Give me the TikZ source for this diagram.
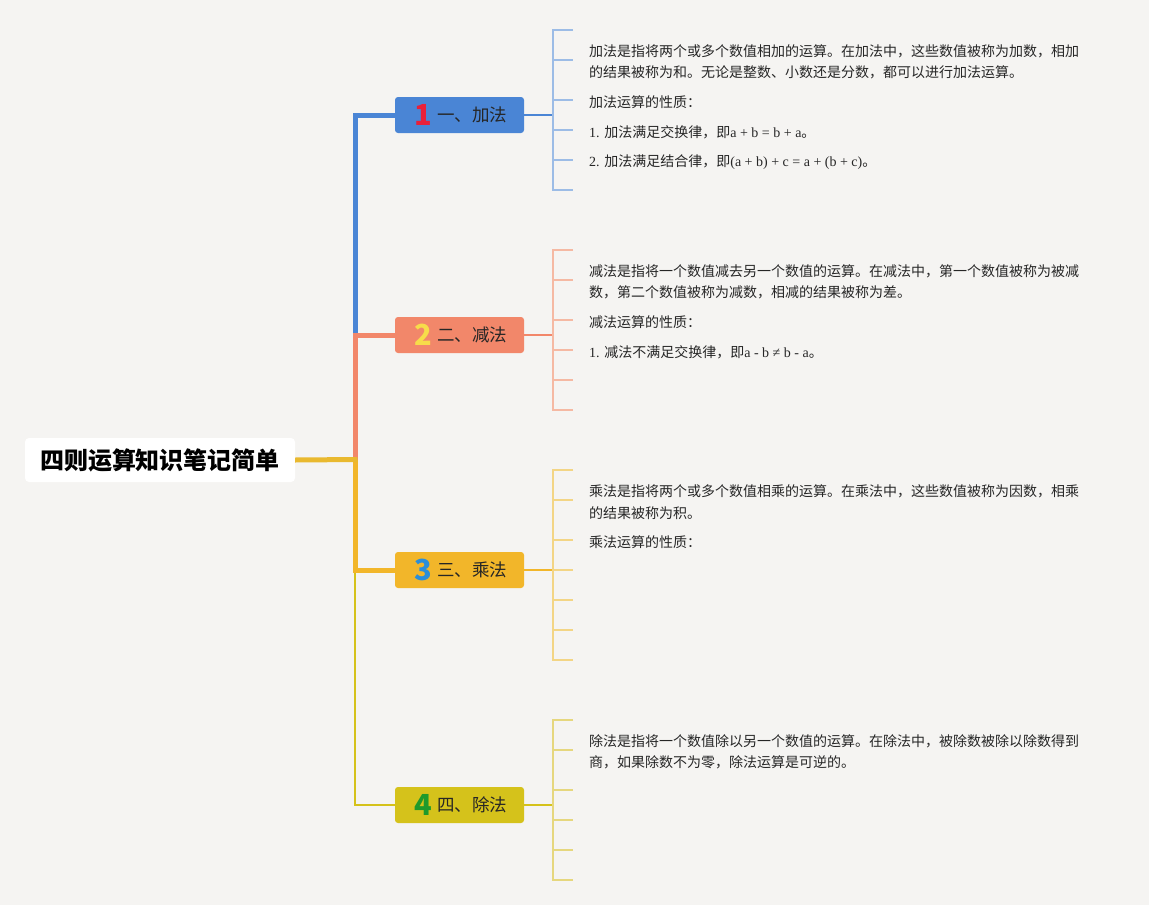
\documentclass[tikz,border=0pt]{standalone}
\usepackage{fontspec}
\setmainfont{Noto Sans CJK SC}
\newfontfamily\lserif{Liberation Serif}
\usetikzlibrary{calc}
\definecolor{bg}{HTML}{F5F4F2}
\definecolor{ink}{HTML}{262626}
\definecolor{cA}{HTML}{4A85D5}
\definecolor{cAl}{HTML}{9CBCE6}
\definecolor{cB}{HTML}{F2876A}
\definecolor{cBl}{HTML}{F5B9A3}
\definecolor{cC}{HTML}{F2B62A}
\definecolor{cCl}{HTML}{F3D585}
\definecolor{cD}{HTML}{D5C21B}
\definecolor{cDl}{HTML}{E6D77E}
\definecolor{rootline}{HTML}{E9B92F}
\definecolor{nA}{HTML}{E8203A}
\definecolor{nB}{HTML}{F7DC4A}
\definecolor{nC}{HTML}{2C8ED8}
\definecolor{nD}{HTML}{1F9A2B}
\begin{document}
\begin{tikzpicture}[x=1pt,y=1pt,
  rootbox/.style={fill=white, rounded corners=4pt, minimum width=270pt, minimum height=44pt, inner sep=0pt, text=black, font=\fontsize{24}{24}\selectfont\bfseries},
  branchbox/.style={rounded corners=3pt, minimum width=129pt, minimum height=36pt, inner sep=0pt},
  numtxt/.style={font=\fontsize{29}{29}\selectfont\bfseries, inner sep=0pt},
  labtxt/.style={font=\fontsize{17.5}{17.5}\selectfont, text=ink, anchor=west, inner sep=0pt},
  itemtxt/.style={font=\fontsize{14}{14}\selectfont, text=ink, anchor=west, inner sep=0pt},
  trunk/.style={line width=5pt},
  thintrunk/.style={line width=1.8pt},
  link/.style={line width=1.8pt},
  bracket/.style={line width=1.3pt}
]
\useasboundingbox[fill=bg] (0,0) rectangle (1149,-905);

% root
\node[rootbox] (root) at (160,-460) {四则运算知识笔记简单};
\coordinate (J) at (355,-459.5);

% branch boxes
\node[branchbox, fill=cA] (b1) at (459.5,-115) {};
\node[branchbox, fill=cB] (b2) at (459.5,-335) {};
\node[branchbox, fill=cC] (b3) at (459.5,-570) {};
\node[branchbox, fill=cD] (b4) at (459.5,-805) {};

\node[numtxt, text=nA] (n1) at (423,-115) {1};
\node[numtxt, text=nB] (n2) at (423,-335) {2};
\node[numtxt, text=nC] (n3) at (423,-570) {3};
\node[numtxt, text=nD] (n4) at (423,-805) {4};

\node[labtxt] (l1) at (437,-115) {一、加法};
\node[labtxt] (l2) at (437,-335) {二、减法};
\node[labtxt] (l3) at (437,-570) {三、乘法};
\node[labtxt] (l4) at (437,-805) {四、除法};

% trunk connectors
\draw[thintrunk, cD] (J) |- (b4.west);
\draw[trunk, cA] (J) |- (b1.west);
\draw[trunk, cC] (J) |- (b3.west);
\draw[trunk, cB] (J) |- (b2.west);
\draw[trunk, rootline] (root.east) -- ($(J)+(2.5,0)$);

% bracket junctions
\coordinate (k1) at (553,-115);
\coordinate (k2) at (553,-335);
\coordinate (k3) at (553,-570);
\coordinate (k4) at (553,-805);
\draw[link, cA] (b1.east) -- (k1);
\draw[link, cB] (b2.east) -- (k2);
\draw[link, cC] (b3.east) -- (k3);
\draw[link, cD] (b4.east) -- (k4);

% brackets
\draw[bracket, cAl] (573,-30) -- (553,-30) -- (553,-190) -- (573,-190);
\foreach \y in {60,100,130,160} \draw[bracket, cAl] (553,-\y) -- (573,-\y);
\draw[bracket, cBl] (573,-250) -- (553,-250) -- (553,-410) -- (573,-410);
\foreach \y in {280,320,350,380} \draw[bracket, cBl] (553,-\y) -- (573,-\y);
\draw[bracket, cCl] (573,-470) -- (553,-470) -- (553,-660) -- (573,-660);
\foreach \y in {500,540,570,600,630} \draw[bracket, cCl] (553,-\y) -- (573,-\y);
\draw[bracket, cDl] (573,-720) -- (553,-720) -- (553,-880) -- (573,-880);
\foreach \y in {750,790,820,850} \draw[bracket, cDl] (553,-\y) -- (573,-\y);

% branch 1 texts
\node[itemtxt] (t1a) at (589,-51.7) {加法是指将两个或多个数值相加的运算。在加法中，这些数值被称为加数，相加};
\node[itemtxt] (t1b) at (589,-72.7) {的结果被称为和。无论是整数、小数还是分数，都可以进行加法运算。};
\node[itemtxt] (t1c) at (589,-102) {加法运算的性质：};
\node[itemtxt] (t1d) at (589,-132) {{\lserif 1. }加法满足交换律，即{\lserif a + b = b + a}。};
\node[itemtxt] (t1e) at (589,-162) {{\lserif 2. }加法满足结合律，即{\lserif (a + b) + c = a + (b + c)}。};

% branch 2 texts
\node[itemtxt] (t2a) at (589,-271.7) {减法是指将一个数值减去另一个数值的运算。在减法中，第一个数值被称为被减};
\node[itemtxt] (t2b) at (589,-292.7) {数，第二个数值被称为减数，相减的结果被称为差。};
\node[itemtxt] (t2c) at (589,-322) {减法运算的性质：};
\node[itemtxt] (t2d) at (589,-352) {{\lserif 1. }减法不满足交换律，即{\lserif a - b ≠ b - a}。};

% branch 3 texts
\node[itemtxt] (t3a) at (589,-491.7) {乘法是指将两个或多个数值相乘的运算。在乘法中，这些数值被称为因数，相乘};
\node[itemtxt] (t3b) at (589,-512.7) {的结果被称为积。};
\node[itemtxt] (t3c) at (589,-542) {乘法运算的性质：};

% branch 4 texts
\node[itemtxt] (t4a) at (589,-741.7) {除法是指将一个数值除以另一个数值的运算。在除法中，被除数被除以除数得到};
\node[itemtxt] (t4b) at (589,-762.7) {商，如果除数不为零，除法运算是可逆的。};
\end{tikzpicture}
\end{document}
